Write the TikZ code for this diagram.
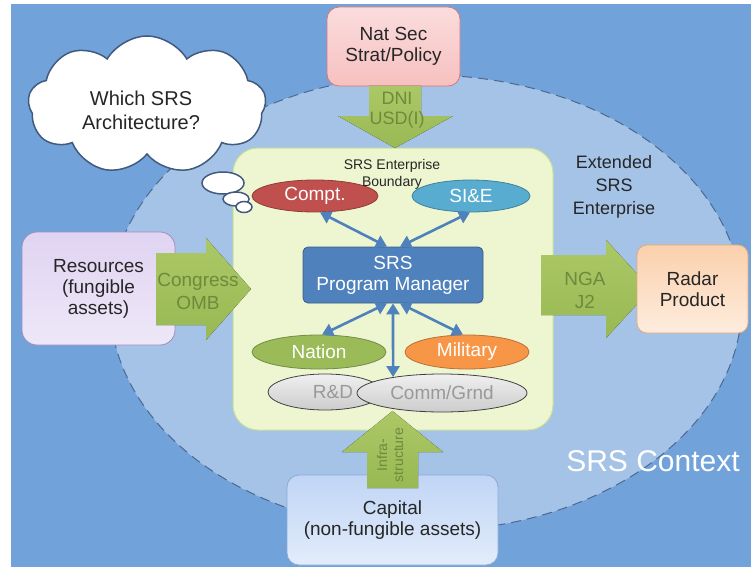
\documentclass[tikz,border=0pt]{standalone}
\usepackage{fontspec}
\setmainfont{Liberation Sans}
\usetikzlibrary{arrows.meta,calc,positioning,shapes.geometric,shapes.symbols}
\definecolor{bgblue}{RGB}{113,162,218}
\definecolor{ctxblue}{RGB}{165,195,231}
\definecolor{ctxline}{RGB}{75,105,145}
\definecolor{entfill}{RGB}{237,246,208}
\definecolor{entline}{RGB}{200,226,150}
\definecolor{arrgreen}{RGB}{152,185,84}
\definecolor{arrlight}{RGB}{172,200,102}
\definecolor{arrtext}{RGB}{110,138,60}
\definecolor{pmblue}{RGB}{79,129,189}
\definecolor{pmline}{RGB}{56,93,138}
\definecolor{comptred}{RGB}{192,80,77}
\definecolor{siteal}{RGB}{88,172,208}
\definecolor{natgreen}{RGB}{155,187,89}
\definecolor{milorange}{RGB}{247,150,70}
\definecolor{pinkfill}{RGB}{247,192,192}
\definecolor{pinkline}{RGB}{215,120,120}
\definecolor{lavfill}{RGB}{224,212,242}
\definecolor{lavline}{RGB}{160,140,190}
\definecolor{peachfill}{RGB}{251,208,172}
\definecolor{peachline}{RGB}{228,170,120}
\definecolor{capfill}{RGB}{192,213,245}
\definecolor{capline}{RGB}{140,170,215}
\definecolor{cloudline}{RGB}{65,90,125}

\begin{document}
\begin{tikzpicture}[x=1pt,y=-1pt,
  every node/.style={font=\fontsize{19}{21}\selectfont,text=black!85,align=center},
  box/.style={draw,rounded corners=12pt,line width=0.8pt},
  oval/.style={ellipse,draw=#1!75!black,fill=#1,text=white,line width=0.8pt,inner sep=0pt},
  greyoval/.style={ellipse,draw=black!75,top color=black!6,bottom color=black!20,
                   text=black!40,line width=0.8pt,inner sep=0pt},
  fat/.style={top color=arrlight,bottom color=arrgreen},
  fattext/.style={text=arrtext},
  link/.style={{Triangle[length=11pt,width=13pt]}-{Triangle[length=11pt,width=13pt]},
               draw=pmblue,line width=2.6pt}]
  \useasboundingbox (0,0) rectangle (751,567);
  % 背景
  \fill[white] (0,0) rectangle (751,567);
  \fill[bgblue] (11,4) rectangle (751,567);
  % 外层椭圆：SRS Context
  \node[ellipse,fill=ctxblue,draw=ctxline,dash pattern=on 10pt off 6pt,line width=1pt,
        minimum width=632,minimum height=456] (ctx) at (426,303) {};
  % 中间绿框：SRS Enterprise
  \node[draw=entline,fill=entfill,rounded corners=25pt,line width=1pt,
        minimum width=320,minimum height=282] (ent) at (393,289) {};
  % 思考云
  \node[cloud,cloud puffs=9,cloud puff arc=120,aspect=1.75,draw=cloudline,fill=white,
        line width=1.5pt,minimum width=238,minimum height=138,inner sep=0pt] (cloud) at (147,105) {};
  \node[font=\fontsize{20}{24}\selectfont] (quest) at (141,110) {Which SRS\\Architecture?};
  \node[ellipse,draw=cloudline,fill=white,line width=1.5pt,minimum width=42,minimum height=22] (bub1) at (223,183) {};
  \node[ellipse,draw=cloudline,fill=white,line width=1.5pt,minimum width=26,minimum height=14] (bub2) at (236,199) {};
  \node[ellipse,draw=cloudline,fill=white,line width=1.5pt,minimum width=16,minimum height=11] (bub3) at (244,207) {};
  % 四周的方框
  \node[box,draw=pinkline,top color=pinkfill!55!white,bottom color=pinkfill,
        minimum width=133,minimum height=79] (natsec) at (393.5,46.5) {Nat Sec\\Strat/Policy};
  \node[box,rounded corners=15pt,draw=lavline,top color=lavfill,bottom color=lavfill!55!white,
        minimum width=153,minimum height=113] (res) at (98.5,288.5) {Resources\\(fungible\\assets)};
  \node[box,draw=capline,top color=capfill,bottom color=capfill!45!white,
        minimum width=211,minimum height=90] (cap) at (392.5,520) {Capital\\(non-fungible assets)};
  % 绿色粗箭头
  \fill[fat] (369,86) -- (421,86) -- (421,116) -- (453,116) -- (395,148)
    -- (338,116) -- (369,116) -- cycle;
  \node[fattext,font=\fontsize{18}{20}\selectfont] (dni) at (397,110) {DNI\\USD(I)};
  \fill[fat] (156,253) -- (206,253) -- (206,238) -- (251,289) -- (206,340)
    -- (206,325) -- (156,325) -- cycle;
  \node[fattext,font=\fontsize{19}{23}\selectfont] (cong) at (198,291) {Congress\\OMB};
  \fill[fat] (541,255) -- (606,255) -- (606,240) -- (651,289) -- (606,338)
    -- (606,315) -- (541,315) -- cycle;
  \node[fattext,font=\fontsize{19}{23}\selectfont] (nga) at (585,290) {NGA\\J2};
  \fill[fat] (367,488) -- (367,452) -- (342,452) -- (392.5,411) -- (443,452)
    -- (418,452) -- (418,488) -- cycle;
  \node[fattext,font=\fontsize{14}{16}\selectfont,rotate=90] (infra) at (390,455) {Infra-\\structure};
  % 右侧：Radar Product
  \node[box,rounded corners=10pt,draw=peachline,top color=peachfill,bottom color=peachfill!40!white,
        minimum width=111,minimum height=88] (radar) at (692.5,289) {Radar\\Product};
  % 内部椭圆与项目经理
  \node[oval=comptred,minimum width=126,minimum height=32] (compt) at (315,196) {Compt.};
  \node[oval=siteal,minimum width=118,minimum height=32] (sie) at (471,196) {SI\&E};
  \node[box,rounded corners=5pt,draw=pmline,fill=pmblue,text=white,
        minimum width=180,minimum height=56] (pm) at (393,275) {SRS\\Program Manager};
  \node[oval=natgreen,minimum width=134,minimum height=34] (nation) at (319,352) {Nation};
  \node[oval=milorange,minimum width=124,minimum height=34] (mil) at (467,352) {Military};
  \node[greyoval,minimum width=114,minimum height=36] (rd) at (325,392) {\hspace*{8pt}R\&D\hspace*{-8pt}};
  \node[greyoval,minimum width=170,minimum height=38] (comm) at (442,393) {Comm/Grnd};
  % 蓝色双向箭头
  \draw[link] ([xshift=-6pt]pm.north) -- ([xshift=5pt]compt.south);
  \draw[link] ([xshift=7pt]pm.north) -- ([xshift=-1pt]sie.south);
  \draw[link] ([xshift=-6pt]pm.south) -- ([xshift=3pt]nation.north);
  \draw[link] ([xshift=7pt]pm.south) -- ([xshift=-4pt]mil.north);
  \draw[link] (pm.south) -- (comm.162);
  % 文字标签
  \node[font=\fontsize{14}{17}\selectfont] (bound) at (392,174) {SRS Enterprise\\Boundary};
  \node[font=\fontsize{18}{23}\selectfont] (ext) at (614,187) {Extended\\SRS\\Enterprise};
  \node[font=\fontsize{30}{34}\selectfont,text=white] (ctxlabel) at (653,461) {SRS Context};
\end{tikzpicture}
\end{document}
